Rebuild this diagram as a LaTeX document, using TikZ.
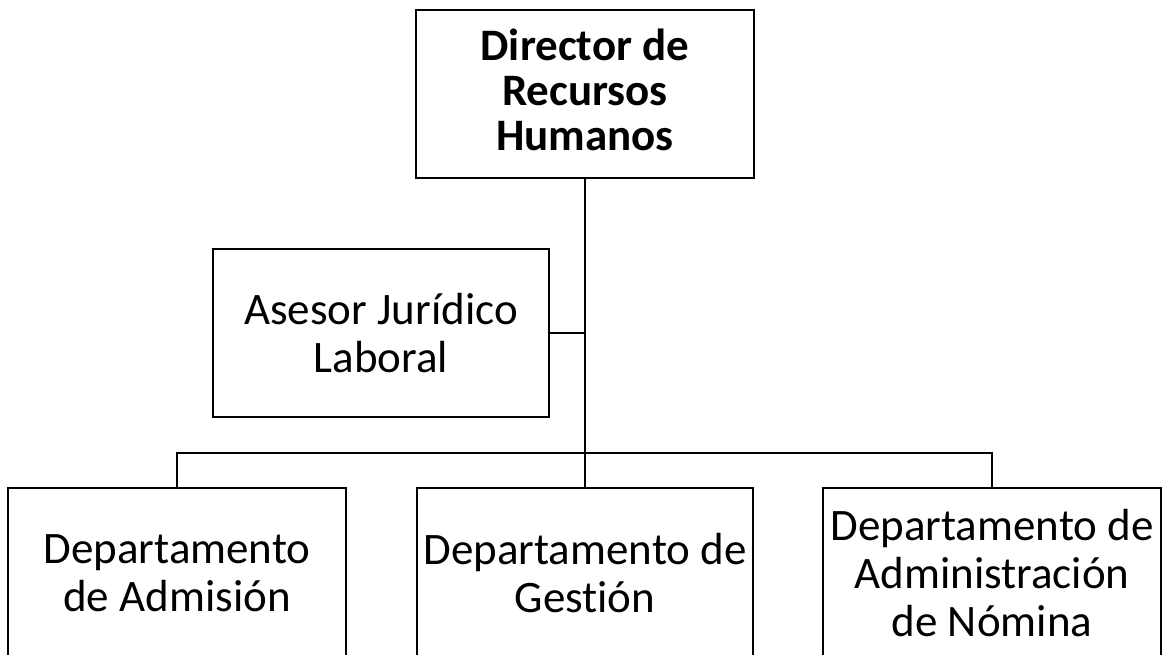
\documentclass[tikz,border=0pt]{standalone}
\usepackage{fontspec}
\setmainfont{Carlito}[Ligatures=NoCommon]
\begin{document}
\begin{tikzpicture}[x=1pt,y=-1pt,
  orgbox/.style={draw=black,line width=2.8pt,rectangle,inner sep=0pt,align=center,
    font=\fontsize{45}{48}\selectfont},
  link/.style={draw=black,line width=2.6pt}]
\useasboundingbox (0,0) rectangle (1162,654);
\clip (0,0) rectangle (1162,654);
\fill[white] (0,0) rectangle (1162,654);
\node[orgbox,minimum width=338pt,minimum height=168pt,font=\fontsize{45}{45}\selectfont\bfseries]
  (dir) at (585,94) {Director de\\Recursos\\Humanos\rule[-9pt]{0pt}{9pt}};
\node[orgbox,minimum width=336pt,minimum height=168pt] (ase) at (381,333) {Asesor Jurídico\\Laboral};
\node[orgbox,minimum width=338pt,minimum height=170pt] (d1) at (177,573) {Departamento\\de Admisión};
\node[orgbox,minimum width=336pt,minimum height=170pt] (d2) at (585,573) {Departamento de\\Gestión};
\node[orgbox,minimum width=338pt,minimum height=170pt] (d3) at (992,573) {Departamento de\\Administración\\de Nómina};
\coordinate (bus) at (585,453);
\draw[link] (dir.south) -- (d2.north);
\draw[link] (ase.east) -- (ase.east -| dir.south);
\draw[link] (d1.north) |- (bus) -| (d3.north);
\end{tikzpicture}
\end{document}
